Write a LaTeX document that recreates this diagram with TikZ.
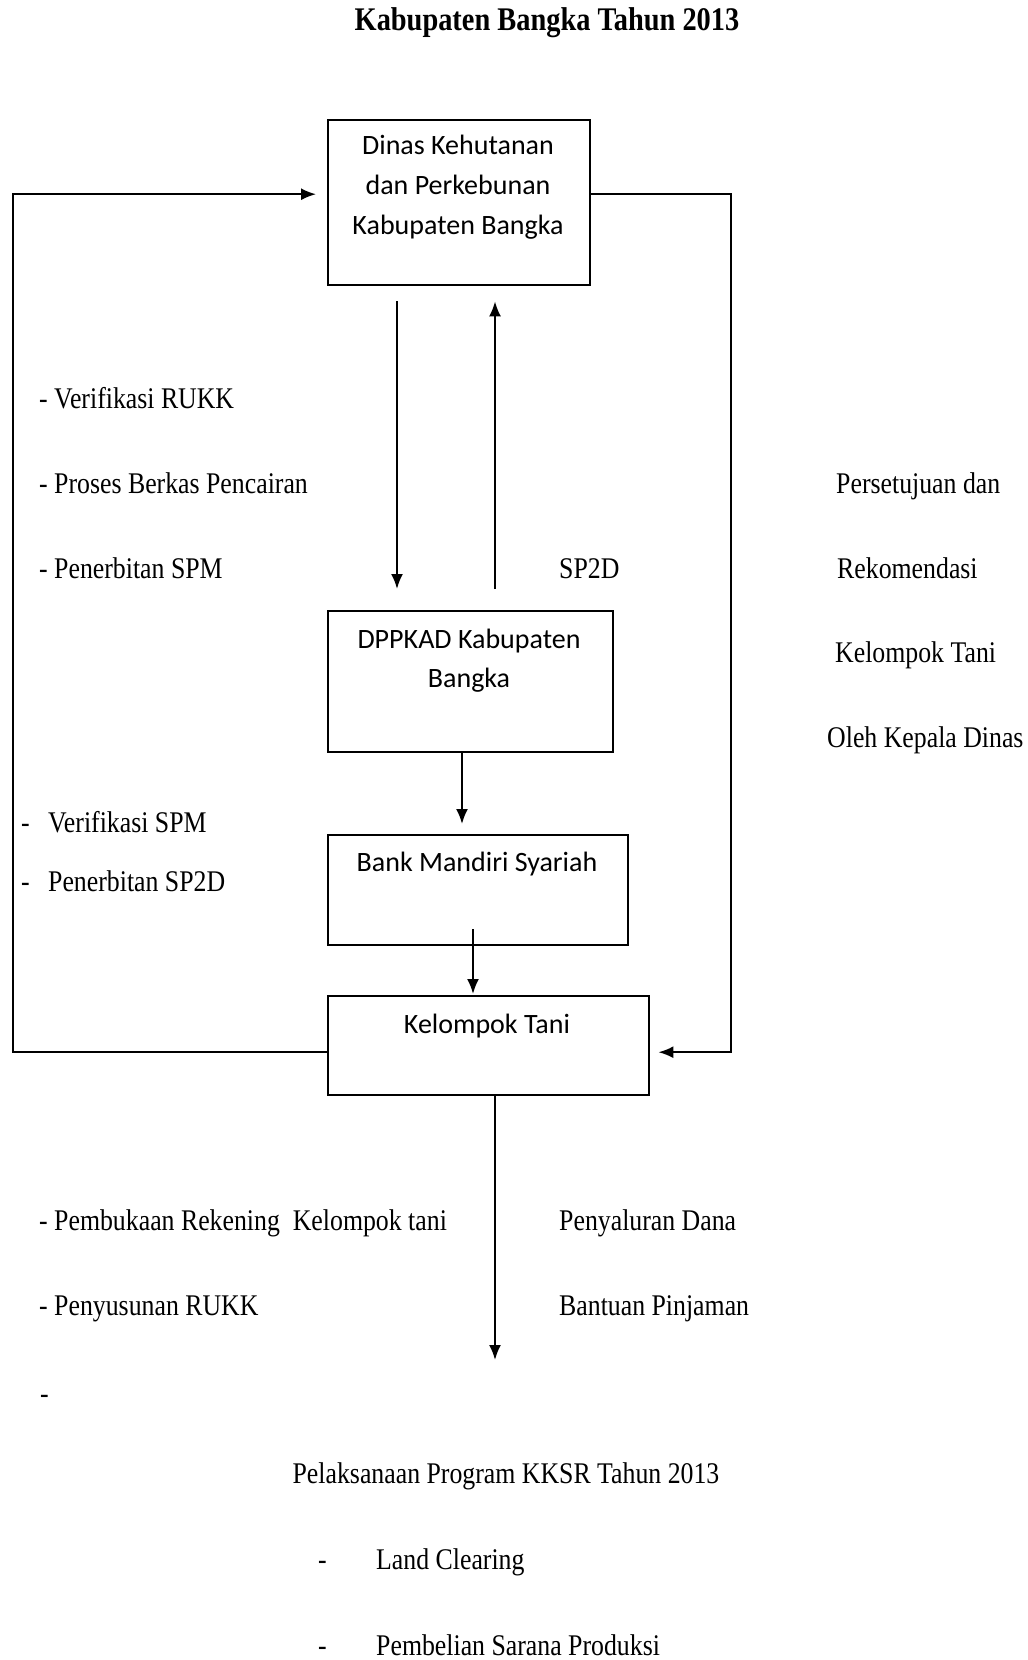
\documentclass[tikz,border=0pt]{standalone}
\usepackage{fontspec}
\setmainfont[FakeStretch=0.86]{Liberation Serif}
\newfontfamily\boxfont{Carlito}
\usetikzlibrary{arrows.meta}
\tikzset{
  box/.style={draw, line width=2.4bp, rectangle, inner sep=0pt, anchor=north west},
  boxtext/.style={font=\boxfont\fontsize{28bp}{40bp}\selectfont, align=center, anchor=base, inner sep=0pt},
  lbl/.style={font=\fontsize{30bp}{36bp}\selectfont, anchor=base west, inner sep=0pt},
  conn/.style={line width=2bp},
  arr/.style={conn, -{Latex[length=15bp,width=12bp]}},
}
\begin{document}
\begin{tikzpicture}[x=1bp,y=-1bp]
\useasboundingbox (0,0) rectangle (1027,1660);
% title
\node[font=\bfseries\fontsize{33bp}{36bp}\selectfont, anchor=base, inner sep=0pt] (title) at (547,31) {Kabupaten Bangka Tahun 2013};
% boxes
\node[box, minimum width=262bp, minimum height=165bp] (dinas) at (327,119) {};
\node[box, minimum width=285bp, minimum height=141bp] (dppkad) at (327,610) {};
\node[box, minimum width=300bp, minimum height=110bp] (bank) at (327,834) {};
\node[box, minimum width=321bp, minimum height=99bp] (kt) at (327,995) {};
% box texts
\node[boxtext] (t1a) at (458,154) {Dinas Kehutanan};
\node[boxtext] (t1b) at (458,194) {dan Perkebunan};
\node[boxtext] (t1c) at (458,234) {Kabupaten Bangka};
\node[boxtext] (t2a) at (469,648) {DPPKAD Kabupaten};
\node[boxtext] (t2b) at (469,687) {Bangka};
\node[boxtext] (t3) at (477,871) {Bank Mandiri Syariah};
\node[boxtext] (t4) at (487,1033) {Kelompok Tani};
% helper coordinates
\coordinate (dinL) at ([yshift=8.5bp]dinas.west);
\coordinate (dinR) at ([yshift=8.5bp]dinas.east);
\coordinate (ktL) at ([yshift=-6.5bp]kt.west);
\coordinate (ktR) at ([yshift=-6.5bp]kt.east);
\coordinate (xl) at (13,0);
\coordinate (xr) at (731,0);
\coordinate (xa) at (397,0);
\coordinate (xb) at (495,0);
\coordinate (xc) at (462,0);
\coordinate (xd) at (473,0);
\coordinate (endpt) at (495,1360);
% connectors
\draw[arr, shorten >=11bp] (ktL) -- (xl |- ktL) -- (xl |- dinL) -- (dinL);
\draw[arr, shorten >=8bp] (dinR) -- (xr |- dinR) -- (xr |- ktR) -- (ktR);
\draw[arr, shorten <=15bp, shorten >=21bp] (dinas.south -| xa) -- (dppkad.north -| xa);
\draw[arr, shorten <=21bp, shorten >=15bp] (dppkad.north -| xb) -- (dinas.south -| xb);
\draw[arr, shorten >=10bp] (dppkad.south -| xc) -- (bank.north -| xc);
\draw[arr, shorten <=-17bp, shorten >=1bp] (bank.south -| xd) -- (kt.north -| xd);
\draw[arr] (kt.south -| xb) -- (endpt);
% left labels
\node[lbl] (l1) at (39,408) {- Verifikasi RUKK};
\node[lbl] (l2) at (39,493) {- Proses Berkas Pencairan};
\node[lbl] (l3) at (39,578) {- Penerbitan SPM};
\node[lbl] (sp2d) at (559,578) {SP2D};
\node[lbl] (r1) at (836,493) {Persetujuan dan};
\node[lbl] (r2) at (837,578) {Rekomendasi};
\node[lbl] (r3) at (835,662) {Kelompok Tani};
\node[lbl] (r4) at (827,747) {Oleh Kepala Dinas};
\node[lbl] (d1) at (21,832) {-};
\node[lbl] (l4) at (48,832) {Verifikasi SPM};
\node[lbl] (d2) at (21,891) {-};
\node[lbl] (l5) at (48,891) {Penerbitan SP2D};
\node[lbl] (l6) at (39,1230) {- Pembukaan Rekening\ \ Kelompok tani};
\node[lbl] (l7) at (39,1315) {- Penyusunan RUKK};
\node[lbl] (l8) at (40,1403) {-};
\node[lbl] (m1) at (559,1230) {Penyaluran Dana};
\node[lbl] (m2) at (559,1315) {Bantuan Pinjaman};
\node[lbl, anchor=base] (p0) at (506,1483) {Pelaksanaan Program KKSR Tahun 2013};
\node[lbl] (pd1) at (318,1569) {-};
\node[lbl] (p1) at (376,1569) {Land Clearing};
\node[lbl] (pd2) at (318,1655) {-};
\node[lbl] (p2) at (376,1655) {Pembelian Sarana Produksi};
\end{tikzpicture}
\end{document}
